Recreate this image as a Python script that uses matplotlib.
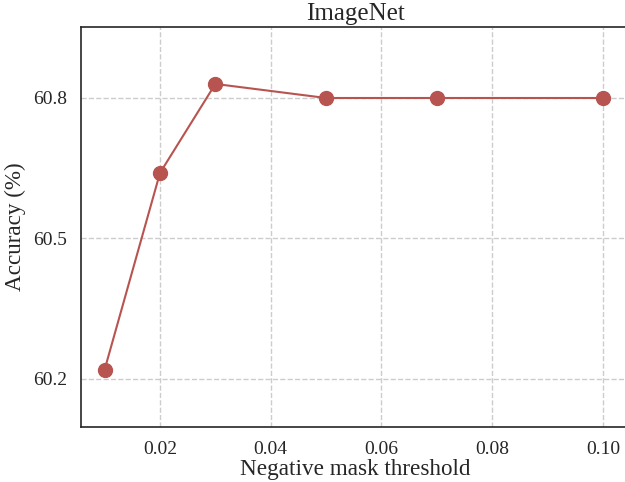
import matplotlib
matplotlib.use("Agg")
import matplotlib.pyplot as plt

# data
thresholds = [0.01, 0.02, 0.03, 0.05, 0.07, 0.10]
accuracy = [60.22, 60.64, 60.83, 60.80, 60.80, 60.80]
xticks = [0.02, 0.04, 0.06, 0.08, 0.10]
yticks = [60.2, 60.5, 60.8]

plt.rcParams['font.family'] = ['Liberation Serif', 'DejaVu Serif']

fig = plt.figure(figsize=(6.25, 4.82), dpi=100)
ax = fig.add_axes([81 / 625, 55 / 482, 549 / 625, 400 / 482])

ax.plot(thresholds, accuracy, color="#b85450", linewidth=1.5,
        marker="o", markersize=10, zorder=3)

ax.set_xlim(0.005734, 0.104876)
ax.set_ylim(60.0975, 60.9516)
ax.set_xticks(xticks)
ax.set_xticklabels(["%.2f" % t for t in xticks])
ax.set_yticks(yticks)
ax.set_yticklabels(["%.1f" % t for t in yticks])
ax.tick_params(length=0, labelsize=14, pad=10, colors="#262626")

ax.grid(True, linestyle="--", color="#cccccc", linewidth=1)
for s in ax.spines.values():
    s.set_color("#262626")
    s.set_linewidth(1.2)

ax.set_title("ImageNet", fontsize=18, color="#262626", pad=5)
ax.set_xlabel("Negative mask threshold", fontsize=16.7, color="#262626", labelpad=1)
ax.set_ylabel("Accuracy (%)", fontsize=16.7, color="#262626", labelpad=5)

fig.savefig("out.png", dpi=100)
